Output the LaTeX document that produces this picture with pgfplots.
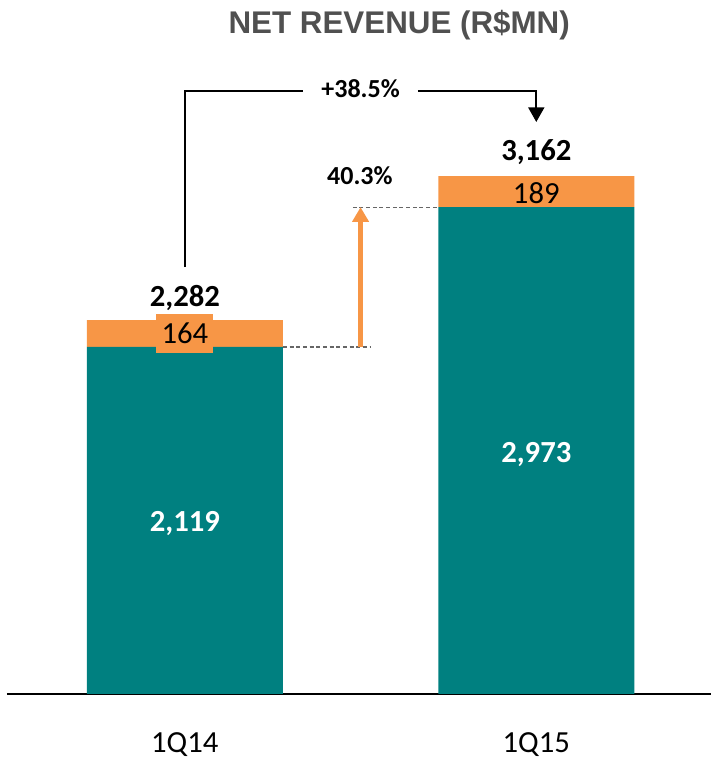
\documentclass[border=0pt]{standalone}
\usepackage{pgfplots}
\pgfplotsset{compat=1.18}
\usepackage{fontspec}
\setmainfont{Carlito}
\newfontfamily\titlefont{Liberation Sans}
\usetikzlibrary{arrows.meta}

\definecolor{barteal}{HTML}{008080}
\definecolor{barorange}{HTML}{F79646}
\definecolor{titlegray}{HTML}{505050}

\newcommand{\lbl}{\fontsize{23}{27}\selectfont}
\newcommand{\pct}{\fontsize{19.5}{23}\selectfont\bfseries}

\begin{document}
\begin{tikzpicture}
\begin{axis}[
    scale only axis,
    width=528pt, height=520.5pt,
    xmin=-0.506, xmax=1.497,
    ymin=0, ymax=4238,
    ybar stacked,
    bar width=147pt,
    axis x line*=bottom,
    axis y line=none,
    axis line style={black, line width=1.5pt},
    xtick={0,1},
    xticklabels={1Q14,1Q15},
    major tick length=0pt,
    xticklabel style={font=\lbl, anchor=base, yshift=-44pt},
    clip=false,
]
\addplot[fill=barteal, draw=none] coordinates {(0,2119) (1,2973)};
\addplot[fill=barorange, draw=none] coordinates {(0,164) (1,189)};

% anchor points for the labels, drawn after the axis so they sit on top of the bars
\coordinate (l2119) at (axis cs:0,991);
\coordinate (l2973) at (axis cs:1,1415);
\coordinate (l164)  at (axis cs:0,2201);
\coordinate (l189)  at (axis cs:1,2998);
\coordinate (t2282) at (axis cs:0,2369);
\coordinate (t3162) at (axis cs:1,3256);
\coordinate (b0)    at (axis cs:0,2607);
\coordinate (b1)    at (axis cs:0.336,3682);
\coordinate (b2)    at (axis cs:0.663,3682);
\coordinate (b3)    at (axis cs:1.0,3493);
\coordinate (g385)  at (axis cs:0.5,3640);
\coordinate (d1a)   at (axis cs:0.279,2119);
\coordinate (d1b)   at (axis cs:0.526,2119);
\coordinate (d2a)   at (axis cs:0.478,2973);
\coordinate (d2b)   at (axis cs:0.72,2973);
\coordinate (a0)    at (axis cs:0.5,2119);
\coordinate (a1)    at (axis cs:0.5,2973);
\coordinate (g403)  at (axis cs:0.498,3114);
\coordinate (ttl)   at (axis cs:0.610,4036);
\coordinate (bbl) at (rel axis cs:-0.00994,-0.0937);
\coordinate (btr) at (rel axis cs:1,1);
\end{axis}

% segment labels
\node[anchor=base, text=white, font=\lbl\bfseries] at (l2119) {2,119};
\node[anchor=base, text=white, font=\lbl\bfseries] at (l2973) {2,973};
\node[fill=barorange, inner xsep=4pt, inner ysep=0pt, minimum height=29pt, font=\lbl] at (l164) {164};
\node[anchor=base, font=\lbl] at (l189) {189};

% totals
\node[anchor=base, font=\lbl\bfseries] at (t2282) {2,282};
\node[anchor=base, font=\lbl\bfseries] at (t3162) {3,162};

% growth bracket
\draw[black, line width=1.5pt] (b0) |- (b1);
\draw[black, line width=1.5pt, -{Triangle[length=11pt,width=12pt]}] (b2) -| (b3);
\node[anchor=base, font=\pct] at (g385) {+38.5\%};

% orange step arrow and guides
\draw[densely dashed, gray!80!black, line width=0.8pt] (d1a) -- (d1b);
\draw[densely dashed, gray!80!black, line width=0.8pt] (d2a) -- (d2b);
\draw[barorange, line width=3.5pt, -{Triangle[length=11pt,width=12pt]}] (a0) -- (a1);
\node[anchor=base, font=\pct] at (g403) {40.3\%};

% title
\node[anchor=base, text=titlegray, font=\titlefont\bfseries\fontsize{23.5}{27}\selectfont]
    at (ttl) {NET REVENUE (R\$MN)};

\pgfresetboundingbox
\useasboundingbox (bbl) rectangle (btr);
\end{tikzpicture}
\end{document}
